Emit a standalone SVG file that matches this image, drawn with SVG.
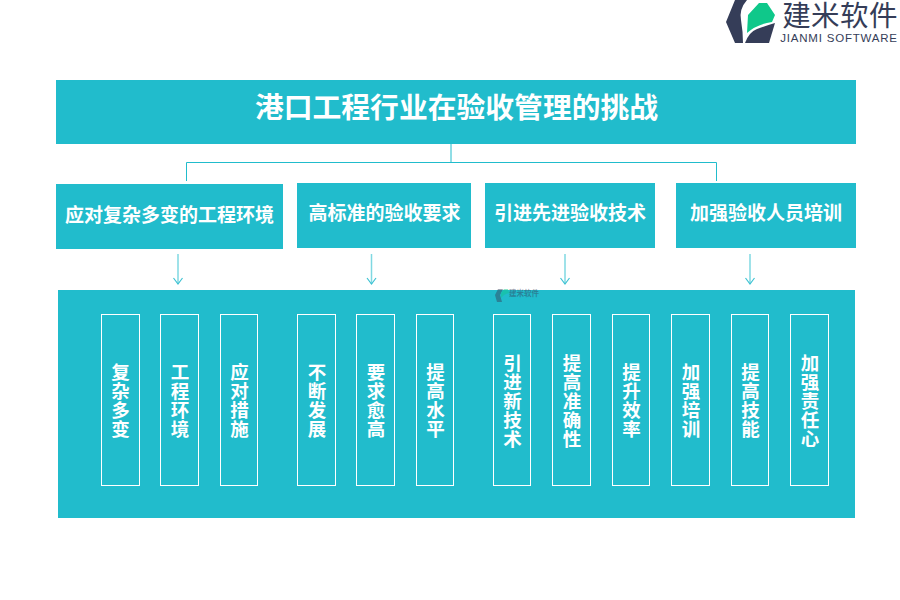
<svg xmlns="http://www.w3.org/2000/svg" width="900" height="600" viewBox="0 0 900 600">
<defs>
<marker id="ah" markerUnits="userSpaceOnUse" markerWidth="10" markerHeight="12" refX="8" refY="6" orient="auto" viewBox="0 0 10 12"><path d="M2 1.500L8 6L2 10.500" fill="none" stroke="#3fc3d3" stroke-width="1.200"/></marker>
</defs>
<style>
text{font-family:"Noto Sans CJK SC","Liberation Sans",sans-serif;fill:#fff;font-weight:700;text-anchor:middle}
.bar{fill:#21bccc}
.h{font-size:19px}
.v{font-size:18.500px;writing-mode:vertical-rl}
.cell{fill:none;stroke:#fff;stroke-width:1}
.line{fill:none;stroke:#21bccc;stroke-width:1}
.arr{fill:none;stroke:#7fd8e2;stroke-width:1.500;marker-end:url(#ah)}
</style>
<g id="logo">
<path d="M735 0H747Q739 9 741 20Q743 32 743 43H735L726 22Z" fill="#353d58"/>
<path d="M748 15L759 3H767L775 15L772 22Q757 24 747 33Z" fill="#0fc88a"/>
<path d="M775 23L769 43H745Q749 32 757 29Q765 26 775 23Z" fill="#353d58"/>
<text x="840" y="26" style="font-family:'Liberation Sans','Noto Sans CJK SC',sans-serif;font-size:28.500px;font-weight:400;fill:#353d58;letter-spacing:.4px">建米软件</text>
<text x="839" y="42" style="font-family:'Liberation Sans',sans-serif;font-size:11.500px;font-weight:400;fill:#353d58;letter-spacing:.8px">JIANMI SOFTWARE</text>
</g>
<g id="title"><rect class="bar" x="56" y="80" width="800" height="64"/><text x="456.500" y="118" style="font-size:28.800px">港口工程行业在验收管理的挑战</text></g>
<g id="connectors">
<path class="line" d="M451 144V162.500M186.500 181V162.500H716.500V181"/>
<path class="arr" d="M178 254V284"/><path class="arr" d="M371.500 254V284"/><path class="arr" d="M565 254V284"/><path class="arr" d="M750 254V284"/>
</g>
<g id="cat1"><rect class="bar" x="56" y="184" width="227" height="65"/><text x="169.500" y="221.500" class="h">应对复杂多变的工程环境</text></g>
<g id="cat2"><rect class="bar" x="297" y="183" width="174" height="65"/><text x="384.500" y="220" class="h">高标准的验收要求</text></g>
<g id="cat3"><rect class="bar" x="485" y="183" width="170" height="65"/><text x="570" y="220" class="h">引进先进验收技术</text></g>
<g id="cat4"><rect class="bar" x="676" y="183" width="180" height="65"/><text x="766" y="220" class="h">加强验收人员培训</text></g>
<g id="panel"><rect class="bar" x="58" y="290" width="797" height="228"/></g>
<g id="watermark" opacity=".45"><path d="M498 289H503L500 295L502 302H497L495 295Z" fill="#353d58"/><path d="M501 293L504 289H508L509 293Q504 294 501 298Z" fill="#0fc88a"/><text x="524" y="296" style="font-size:7.500px;font-weight:700;fill:#353d58">建米软件</text></g>
<g id="c1"><rect class="cell" x="101.500" y="314.500" width="38" height="171"/><text class="v" x="120.500" y="372">复</text><text class="v" x="120.500" y="391">杂</text><text class="v" x="120.500" y="410">多</text><text class="v" x="120.500" y="429">变</text></g>
<g id="c2"><rect class="cell" x="160.500" y="314.500" width="38" height="171"/><text class="v" x="180" y="372">工</text><text class="v" x="180" y="391">程</text><text class="v" x="180" y="410">环</text><text class="v" x="180" y="429">境</text></g>
<g id="c3"><rect class="cell" x="220.500" y="314.500" width="37" height="171"/><text class="v" x="239.500" y="372">应</text><text class="v" x="239.500" y="391">对</text><text class="v" x="239.500" y="410">措</text><text class="v" x="239.500" y="429">施</text></g>
<g id="c4"><rect class="cell" x="297.500" y="314.500" width="38" height="171"/><text class="v" x="317" y="372">不</text><text class="v" x="317" y="391">断</text><text class="v" x="317" y="410">发</text><text class="v" x="317" y="429">展</text></g>
<g id="c5"><rect class="cell" x="356.500" y="314.500" width="38" height="171"/><text class="v" x="376" y="372">要</text><text class="v" x="376" y="391">求</text><text class="v" x="376" y="410">愈</text><text class="v" x="376" y="429">高</text></g>
<g id="c6"><rect class="cell" x="416.500" y="314.500" width="37" height="171"/><text class="v" x="435.500" y="372">提</text><text class="v" x="435.500" y="391">高</text><text class="v" x="435.500" y="410">水</text><text class="v" x="435.500" y="429">平</text></g>
<g id="c7"><rect class="cell" x="493.500" y="314.500" width="37" height="171"/><text class="v" x="512.500" y="362.500">引</text><text class="v" x="512.500" y="381.500">进</text><text class="v" x="512.500" y="400.500">新</text><text class="v" x="512.500" y="419.500">技</text><text class="v" x="512.500" y="438.500">术</text></g>
<g id="c8"><rect class="cell" x="552.500" y="314.500" width="38" height="171"/><text class="v" x="572" y="362.500">提</text><text class="v" x="572" y="381.500">高</text><text class="v" x="572" y="400.500">准</text><text class="v" x="572" y="419.500">确</text><text class="v" x="572" y="438.500">性</text></g>
<g id="c9"><rect class="cell" x="612.500" y="314.500" width="37" height="171"/><text class="v" x="631.500" y="372">提</text><text class="v" x="631.500" y="391">升</text><text class="v" x="631.500" y="410">效</text><text class="v" x="631.500" y="429">率</text></g>
<g id="c10"><rect class="cell" x="671.500" y="314.500" width="38" height="171"/><text class="v" x="691" y="372">加</text><text class="v" x="691" y="391">强</text><text class="v" x="691" y="410">培</text><text class="v" x="691" y="429">训</text></g>
<g id="c11"><rect class="cell" x="731.500" y="314.500" width="37" height="171"/><text class="v" x="750.500" y="372">提</text><text class="v" x="750.500" y="391">高</text><text class="v" x="750.500" y="410">技</text><text class="v" x="750.500" y="429">能</text></g>
<g id="c12"><rect class="cell" x="790.500" y="314.500" width="38" height="171"/><text class="v" x="810" y="362.500">加</text><text class="v" x="810" y="381.500">强</text><text class="v" x="810" y="400.500">责</text><text class="v" x="810" y="419.500">任</text><text class="v" x="810" y="438.500">心</text></g>
</svg>
